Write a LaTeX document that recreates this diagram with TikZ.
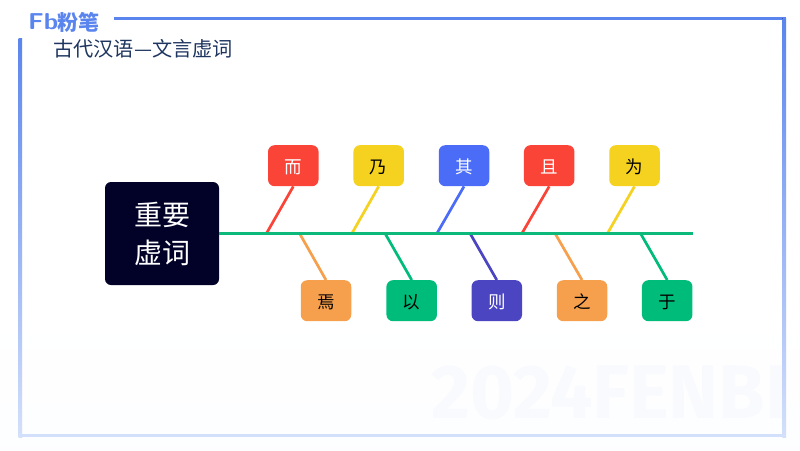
\documentclass[tikz,border=0pt]{standalone}
\usepackage{fontspec}
\newfontfamily\cjk{Noto Sans CJK SC}
\newfontfamily\wm{Fira Sans}
\usetikzlibrary{shapes.geometric}
\definecolor{spine}{HTML}{0DB97A}
\definecolor{cred}{HTML}{FB4438}
\definecolor{cyel}{HTML}{F4D21F}
\definecolor{cblue}{HTML}{4A6CF7}
\definecolor{corg}{HTML}{F6A04D}
\definecolor{cgrn}{HTML}{00BC7B}
\definecolor{cpur}{HTML}{4C45C2}
\definecolor{navy}{HTML}{020229}
\definecolor{frametop}{HTML}{5B85EE}
\definecolor{framebot}{HTML}{D3E0FB}
\definecolor{titlec}{HTML}{1E3560}
\tikzset{
  x=1pt,y=-1pt,
  tag/.style={rounded corners=6.5pt,minimum width=50.5pt,minimum height=41pt,inner sep=0pt,text height=17.6pt,text depth=2pt,font=\cjk\fontsize{17.5}{19}\selectfont},
  bone/.style={line width=2.7pt},
  hub/.style={fill=navy,text=white,rounded corners=6pt,minimum width=114pt,minimum height=103pt,inner sep=0pt,align=center,font=\cjk\fontsize{28}{38}\selectfont},
}
\begin{document}
\begin{tikzpicture}
\useasboundingbox (0,0) rectangle (800,450);
\fill[white] (0,0) rectangle (800,450);
\fill[top color=white,bottom color=white!95!framebot] (0,300) rectangle (800,450);
% watermark
\begin{scope}
\clip (0,0) rectangle (783,450);
\node[anchor=west,inner sep=0pt,text=framebot!15!white,font=\wm\bfseries\fontsize{76}{76}\selectfont,xscale=.99] (wmark) at (431,393) {2024FENBI};
\end{scope}
% frame
\fill[frametop] (114,16.6) rectangle (786,20);
\fill[top color=frametop,bottom color=framebot] (18.6,38) rectangle (22,437);
\fill[top color=frametop,bottom color=framebot] (782.4,18) rectangle (786,437);
\fill[framebot] (18.6,434) rectangle (786,437);
% logo and title
\node[anchor=west,inner sep=0pt,text=frametop,font=\sffamily\bfseries\fontsize{23}{23}\selectfont,xscale=1.12] (fb) at (28,22) {Fb};
\node[anchor=west,inner sep=0pt,text=frametop,font=\cjk\bfseries\fontsize{21}{21}\selectfont] (brand) at (57,22) {粉笔};
\node[anchor=west,inner sep=0pt,text=titlec,font=\cjk\fontsize{20.2}{22}\selectfont] (title) at (53,48.5) {古代汉语—文言虚词};
% hub
\node[hub] (hub) at (162,233.5) {重要\\虚词};
% tags
\node[tag,fill=cred,text=white] (er) at (293.3,165.7) {而};
\node[tag,fill=cyel,text=black] (nai) at (378.7,165.7) {乃};
\node[tag,fill=cblue,text=white] (qi) at (464,165.7) {其};
\node[tag,fill=cred,text=white] (qie) at (549.2,165.7) {且};
\node[tag,fill=cyel,text=black] (wei) at (634.5,165.7) {为};
\node[tag,fill=corg,text=black] (yan) at (326,300.7) {焉};
\node[tag,fill=cgrn,text=black] (yi) at (411.7,300.7) {以};
\node[tag,fill=cpur,text=white] (ze) at (496.8,300.7) {则};
\node[tag,fill=corg,text=black] (zhi) at (582,300.7) {之};
\node[tag,fill=cgrn,text=black] (yu) at (667.2,300.7) {于};
% spine joints
\coordinate (end) at (693,233.3);
\coordinate (a1) at (266.5,233.3);
\coordinate (a2) at (352,233.3);
\coordinate (a3) at (437,233.3);
\coordinate (a4) at (522,233.3);
\coordinate (a5) at (607.5,233.3);
\coordinate (b1) at (299.5,233.3);
\coordinate (b2) at (385,233.3);
\coordinate (b3) at (470,233.3);
\coordinate (b4) at (555,233.3);
\coordinate (b5) at (640.5,233.3);
% bones
\draw[bone,cred] (er.south) -- (a1);
\draw[bone,cyel] (nai.south) -- (a2);
\draw[bone,cblue] (qi.south) -- (a3);
\draw[bone,cred] (qie.south) -- (a4);
\draw[bone,cyel] (wei.south) -- (a5);
\draw[bone,corg] (yan.north) -- (b1);
\draw[bone,cgrn] (yi.north) -- (b2);
\draw[bone,cpur] (ze.north) -- (b3);
\draw[bone,corg] (zhi.north) -- (b4);
\draw[bone,cgrn] (yu.north) -- (b5);
\draw[spine,line width=2.8pt] (hub.east |- end) -- (end);
\end{tikzpicture}
\end{document}
